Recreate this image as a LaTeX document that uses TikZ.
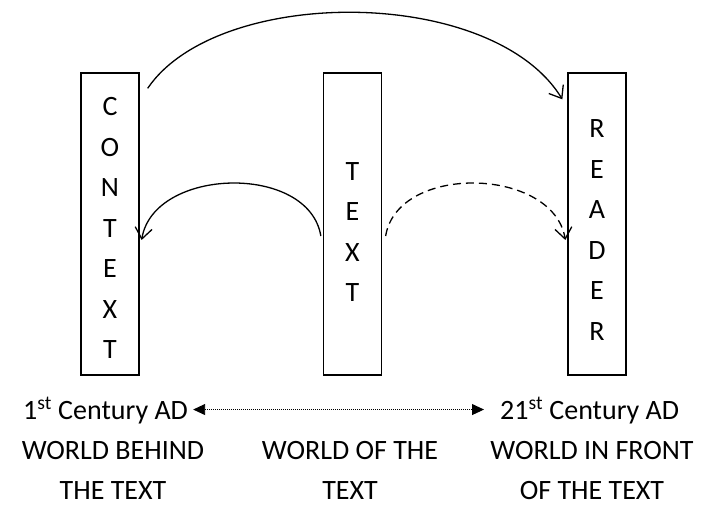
\documentclass[tikz,border=0pt]{standalone}
\usepackage{fontspec}
\setmainfont{Carlito}
\usetikzlibrary{arrows.meta}
\begin{document}
\begin{tikzpicture}[x=1pt,y=-1pt,
  box/.style={draw, line width=1.3pt, minimum width=58pt, minimum height=302pt, inner sep=0pt},
  letters/.style={align=center, font=\fontsize{28}{40.5}\selectfont, inner sep=0pt},
  lbl/.style={font=\fontsize{28}{40}\selectfont, inner sep=0pt},
  curve/.style={line width=1.3pt, -{Straight Barb[length=11pt,width=17pt,line width=1.3pt]}},
  dotline/.style={line width=0.9pt, dash pattern=on 1pt off 1pt,
     {Triangle[length=12pt,width=11pt]}-{Triangle[length=12pt,width=11pt]}},
]
\useasboundingbox (0,0) rectangle (707,505);
% boxes
\node[box] (context) at (110,224) {};
\node[box] (text) at (352.5,224) {};
\node[box] (reader) at (597,224) {};
\node[letters] (contextlbl) at ([yshift=-4pt]context.center) {C\\O\\N\\T\\E\\X\\T};
\node[letters] (textlbl) at ([yshift=-8pt]text.center) {T\\E\\X\\T};
\node[letters] (readerlbl) at ([yshift=-6pt]reader.center) {R\\E\\A\\D\\E\\R};
% curves
\draw[curve] ([xshift=8pt,yshift=-16pt]context.north east)
  .. controls +(70,-103) and +(-70,-114) .. ([xshift=-5pt,yshift=-27pt]reader.north west);
\draw[curve] ([xshift=-2pt,yshift=-12pt]text.west)
  .. controls +(-12,-73) and +(12,-73) .. ([xshift=2pt,yshift=-16pt]context.east);
\draw[curve, dash pattern=on 8pt off 5pt] ([xshift=3.5pt,yshift=-12pt]text.east)
  .. controls +(12,-73) and +(-12,-73) .. ([xshift=-2pt,yshift=-16pt]reader.west);
% bottom labels
\node[lbl, anchor=base west] (c1) at (23,419) {1\textsuperscript{st} Century AD};
\node[lbl, anchor=base west] (c21) at (500,419) {21\textsuperscript{st} Century AD};
\draw[dotline] ([xshift=5pt,yshift=1pt]c1.east) -- ([xshift=-16pt,yshift=1pt]c21.west);
\node[lbl, align=center, anchor=base] (behind) at (113,499) {WORLD BEHIND\\THE TEXT};
\node[lbl, align=center, anchor=base] (of) at (350,499) {WORLD OF THE\\TEXT};
\node[lbl, align=center, anchor=base] (front) at (592,499) {WORLD IN FRONT\\OF THE TEXT};
\end{tikzpicture}
\end{document}
